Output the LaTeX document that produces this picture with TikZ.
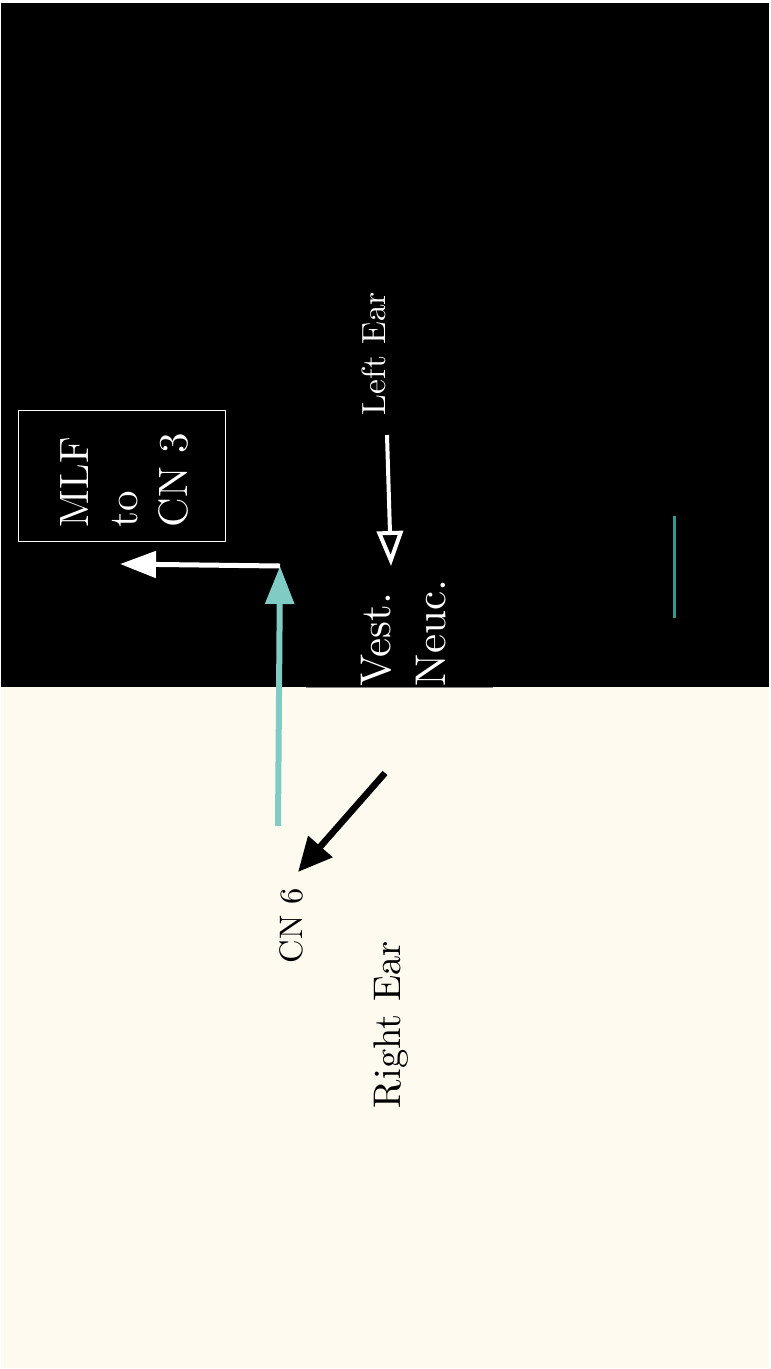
\documentclass[tikz,border=0pt]{standalone}
\usetikzlibrary{arrows.meta}
\definecolor{cream}{HTML}{FFFAF0}
\definecolor{tealA}{HTML}{80CBC4}
\definecolor{tealB}{HTML}{2A9D8F}
% ten-point design face, enlarged
\newcommand\bigtext[2]{\scalebox{#1}{\fontsize{10pt}{12pt}\selectfont #2}}
\begin{document}
\begin{tikzpicture}[x=1pt,y=-1pt,
  lbl/.style={inner sep=0pt, outer sep=0pt, rotate=90, anchor=base west},
  onblack/.style={lbl, text=white},
  oncream/.style={lbl, text=black}]
\useasboundingbox (0,0) rectangle (771,1369);

% two halves of the background
\fill[black] (1,3) rectangle (769,687);
\fill[cream] (1,687) rectangle (769,1368);
\draw[gray, line width=1] (306,687) -- (493,687);

% framed label
\node[draw=white, line width=1, minimum width=207pt, minimum height=131pt, inner sep=0pt] (box) at (121.5,475.5) {};
\node[onblack] (mlf) at (88,527) {\bigtext{4.1}{MLF}};
\node[onblack] (to) at (137,527) {\bigtext{4.1}{to}};
\node[onblack] (cn3) at (187,527) {\bigtext{4.1}{CN 3}};

% nucleus and ear labels
\node[onblack] (leftear) at (385,415) {\bigtext{3.35}{Left Ear}};
\node[onblack] (vest) at (390,686) {\bigtext{4.3}{Vest.}};
\node[onblack] (neuc) at (445,686) {\bigtext{4.3}{Neuc.}};
\node[oncream] (cn6) at (302,963) {\bigtext{3.25}{CN 6}};
\node[oncream] (rightear) at (400,1108) {\bigtext{3.85}{Right Ear}};

% connector end points
\coordinate (tealtail) at (278,826);
\coordinate (junction) at (280,566);
\coordinate (mlftip) at (120,564);
\coordinate (lefttail) at (387,435);
\coordinate (lefttip) at (391,566);
\coordinate (righttail) at (385,773);
\coordinate (righttip) at (298,872);
\coordinate (marktop) at (674,516);
\coordinate (markbot) at (674,618);

% connectors
\draw[tealA, line width=6, -{Triangle[length=38pt,width=28pt]}] (tealtail) -- (junction);
\draw[white, line width=5, -{Triangle[length=36pt,width=26pt]}] (junction) -- (mlftip);
\draw[white, line width=4, -{Triangle[open,length=35pt,width=26pt]}] (lefttail) -- (lefttip);
\draw[black, line width=6.5, -{Triangle[length=34pt,width=31pt]}] (righttail) -- (righttip);
\draw[tealB, line width=3] (marktop) -- (markbot);
\end{tikzpicture}
\end{document}
